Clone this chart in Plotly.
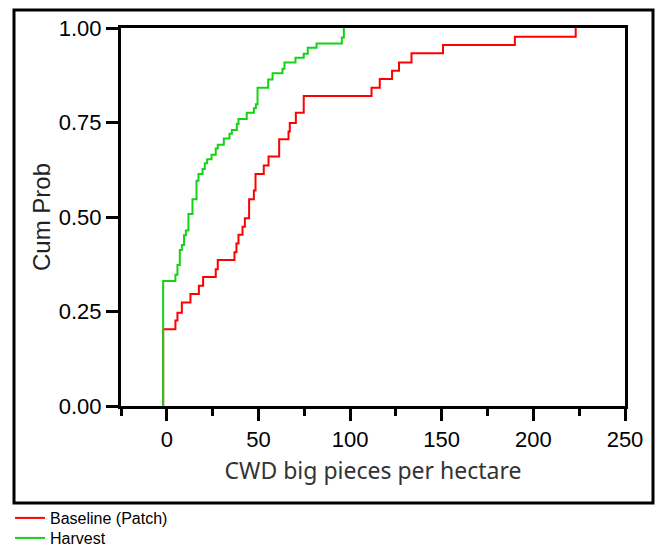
import plotly.graph_objects as go

# Empirical CDF step points (x = CWD big pieces per hectare, y = cumulative probability)
baseline_x = [-2, -2, 4.7, 5.8, 8.2, 12.9, 17.5, 19.8, 26.7, 27.8, 36.9, 38.0, 39.1, 41.3,
              42.6, 44.9, 47.5, 48.4, 52.9, 55.5, 61.3, 66.4, 67.1, 70.4, 74.7, 111.7,
              116.2, 122.9, 126.7, 133.5, 150.7, 189.9, 223.1]
baseline_p = [0.0, 0.203, 0.226, 0.247, 0.274, 0.296, 0.318, 0.341, 0.362, 0.386, 0.407,
              0.430, 0.453, 0.474, 0.497, 0.547, 0.570, 0.614, 0.636, 0.660, 0.706, 0.726,
              0.749, 0.776, 0.820, 0.842, 0.865, 0.887, 0.909, 0.933, 0.955, 0.977, 1.0]

harvest_x = [-2, -2, 4.7, 5.8, 7.1, 8.2, 9.4, 10.4, 11.8, 14.0, 16.2, 17.3, 19.5, 20.7,
             22.0, 24.4, 26.7, 27.8, 31.1, 34.2, 35.5, 38.2, 39.1, 43.6, 47.5, 48.6, 49.5,
             55.3, 57.7, 63.1, 64.2, 70.2, 74.7, 76.9, 81.7, 95.5, 96.6]
harvest_p = [0.0, 0.331, 0.347, 0.373, 0.413, 0.426, 0.452, 0.464, 0.508, 0.547, 0.596,
             0.614, 0.627, 0.642, 0.653, 0.665, 0.681, 0.691, 0.708, 0.720, 0.730, 0.746,
             0.759, 0.776, 0.788, 0.798, 0.842, 0.864, 0.880, 0.892, 0.909, 0.921, 0.932,
             0.948, 0.959, 0.975, 1.0]

x_ticks = [0, 50, 100, 150, 200, 250]
y_ticks = [0.0, 0.25, 0.5, 0.75, 1.0]

W, H = 656, 548
L, R, T, B = 121, 31, 28, 142
pw, ph = W - L - R, H - T - B

def px2paper_x(px):
    return (px - L) / pw

def py2paper_y(py):
    return (H - B - py) / ph

fig = go.Figure()
fig.add_trace(go.Scatter(x=baseline_x, y=baseline_p, mode="lines", name="Baseline (Patch)",
                         legend="legend",
                         line=dict(color="#FF0000", width=2, shape="hv")))
fig.add_trace(go.Scatter(x=harvest_x, y=harvest_p, mode="lines", name="Harvest",
                         legend="legend2",
                         line=dict(color="#14D214", width=2, shape="hv")))

tickfont = dict(family="Liberation Sans, Arial", size=22, color="black")
legfont = dict(family="Liberation Sans, Arial", size=16, color="black")

def make_legend(top_px):
    return dict(x=px2paper_x(10), y=py2paper_y(top_px), xanchor="left", yanchor="top",
                orientation="v", bgcolor="rgba(0,0,0,0)", font=legfont,
                itemwidth=30, tracegroupgap=0)

fig.update_layout(
    width=W, height=H,
    margin=dict(l=L, r=R, t=T, b=B, autoexpand=False),
    paper_bgcolor="white", plot_bgcolor="white",
    showlegend=True,
    legend=make_legend(501),
    legend2=make_legend(521),
    xaxis=dict(range=[-25, 250], tickvals=x_ticks, ticks="outside", ticklen=12,
               tickwidth=3, tickcolor="black", showline=True, linewidth=3,
               linecolor="black", mirror=True, showgrid=False, zeroline=False,
               tickfont=tickfont,
               minor=dict(dtick=25, tick0=0, ticks="outside", ticklen=7, tickwidth=3,
                          tickcolor="black", showgrid=False),
               title=dict(text="CWD big pieces per hectare", standoff=12,
                          font=dict(family="Noto Sans", size=23, color="#333333"))),
    yaxis=dict(range=[0, 1], tickvals=y_ticks, tickformat=".2f", ticks="outside",
               ticklen=12, tickwidth=3, tickcolor="black", showline=True, linewidth=3,
               linecolor="black", mirror=True, showgrid=False, zeroline=False,
               tickfont=tickfont,
               title=dict(text="Cum Prob", standoff=2,
                          font=dict(family="Liberation Sans, Arial", size=24, color="#222222"))),
    shapes=[dict(type="rect", xref="paper", yref="paper",
                 x0=px2paper_x(14), x1=px2paper_x(653),
                 y0=py2paper_y(503), y1=py2paper_y(10),
                 line=dict(color="black", width=3), fillcolor="rgba(0,0,0,0)", layer="above")],
)

fig.write_html("out.html")
